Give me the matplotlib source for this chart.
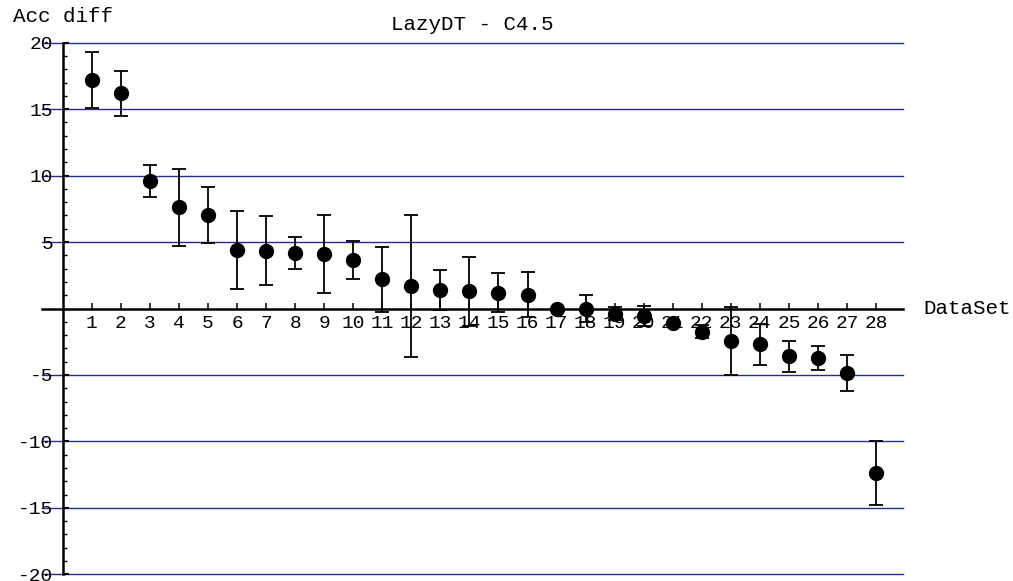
import matplotlib
matplotlib.use("Agg")
import matplotlib.pyplot as plt
from matplotlib.ticker import MultipleLocator

plt.rcParams['font.family'] = ['Liberation Mono', 'DejaVu Sans Mono']

# accuracy difference per data set and its error (half-width)
datasets = list(range(1, 29))
acc_diff = [17.2, 16.2, 9.6, 7.6, 7.05, 4.4, 4.35, 4.15, 4.1, 3.65,
            2.2, 1.7, 1.4, 1.3, 1.2, 1.05, 0.0, 0.0, -0.4, -0.55,
            -1.1, -1.75, -2.45, -2.7, -3.6, -3.75, -4.85, -12.4]
acc_err = [2.1, 1.7, 1.2, 2.9, 2.1, 2.9, 2.6, 1.2, 2.9, 1.45,
           2.45, 5.35, 1.5, 2.6, 1.45, 1.7, 0.0, 1.05, 0.5, 0.75,
           0.1, 0.5, 2.55, 1.55, 1.15, 0.9, 1.35, 2.4]
grid_y = [20, 15, 10, 5, -5, -10, -15, -20]
major_y = [-20, -15, -10, -5, 5, 10, 15, 20]

fig = plt.figure(figsize=(10.13, 5.81), dpi=100)
ax = fig.add_axes([41.7 / 1013, 6.7 / 581, (903.3 - 41.7) / 1013, (574.3 - 42.7) / 581])

ax.set_xlim(-0.73, 28.94)
ax.set_ylim(-20, 20)

for g in grid_y:
    ax.axhline(g, color='#2b2b8c', lw=1.0, zorder=1, clip_on=False)

ax.errorbar(datasets, acc_diff, yerr=acc_err, fmt='o', color='black',
            markersize=10, elinewidth=1.3, capsize=5, capthick=1.3,
            zorder=5, clip_on=False)

for side in ['top', 'right']:
    ax.spines[side].set_visible(False)
ax.spines['left'].set_position(('data', 0))
ax.spines['bottom'].set_position(('data', 0))
ax.spines['left'].set_linewidth(1.8)
ax.spines['bottom'].set_linewidth(1.8)
ax.spines['left'].set_zorder(3)
ax.spines['bottom'].set_zorder(3)

ax.set_xticks(datasets)
ax.set_xticklabels([str(d) for d in datasets])
ax.set_yticks(major_y)
ax.set_yticklabels([str(v) for v in major_y])
ax.yaxis.set_minor_locator(MultipleLocator(1))

ax.tick_params(axis='x', direction='in', length=4.5, width=1.1, pad=5, labelsize=14)
ax.tick_params(axis='y', which='major', direction='in', length=4.5, width=1.5, pad=7, labelsize=14)
ax.tick_params(axis='y', which='minor', direction='in', length=3, width=1.0)

fig.text(472 / 1013, 1 - 25 / 581, 'LazyDT - C4.5', ha='center', va='center', fontsize=15)
fig.text(13 / 1013, 1 - 16 / 581, 'Acc diff', ha='left', va='center', fontsize=15)
fig.text(923 / 1013, 1 - 309 / 581, 'DataSet', ha='left', va='center', fontsize=15)

fig.savefig('out.png', dpi=100)
